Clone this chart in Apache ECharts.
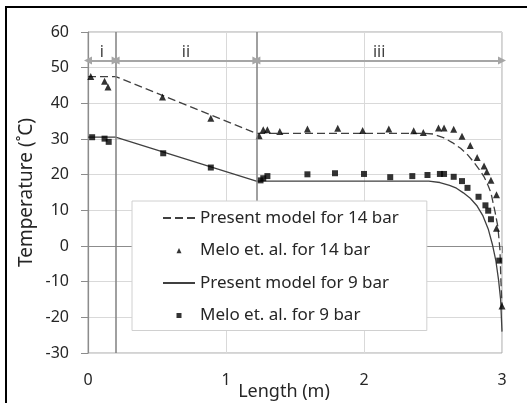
<!DOCTYPE html>
<html lang="en">
<head>
    <meta charset="UTF-8">
    <title>Temperature along length</title>
    <script type="text/javascript" src="https://cdn.jsdelivr.net/npm/echarts@6/dist/echarts.min.js"></script>
    <style>
        html, body { margin: 0; padding: 0; background: #fff; }
    </style>
</head>
<body>

<div id="main" style="width: 527px;height:403px;"></div>

<script>
    // axis ranges
    var xRange = [0, 3, 1];
    var yRange = [-30, 60, 10];

    // section bounds (m) and names for the arrows on top
    var sectionBounds = [0, 0.2, 1.22, 3];
    var sectionNames = ['i', 'ii', 'iii'];
    var arrowLevel = 52;
    var dividerEnds = [-30, 12]; // bottom of the lines at 0.2 and 1.22

    // present model, 14 bar (dashed)
    var model14 = [
        [0, 47.5], [0.2, 47.5], [1.22, 31.6], [2.43, 31.6], [2.5, 31.4],
        [2.58, 30.3], [2.64, 29.0], [2.7, 27.4], [2.75, 25.6], [2.8, 23.3],
        [2.84, 21.2], [2.87, 19.4], [2.9, 16.9], [2.92, 14.9], [2.95, 9.5],
        [2.97, 5.4], [2.985, -1], [2.992, -9.5], [3.0, -17]
    ];
    // Melo et al., 14 bar (triangles)
    var melo14 = [
        [0.02, 47.5], [0.12, 46.2], [0.145, 44.6], [0.54, 41.8], [0.89, 35.8],
        [1.24, 30.9], [1.27, 32.6], [1.30, 32.6], [1.39, 32.1], [1.59, 32.8],
        [1.81, 33.0], [1.99, 32.4], [2.18, 32.8], [2.36, 32.3], [2.43, 31.8],
        [2.54, 33.1], [2.58, 33.1], [2.65, 32.7], [2.71, 30.8], [2.77, 28.2],
        [2.82, 24.8], [2.87, 22.4], [2.89, 20.8], [2.92, 18.4], [2.96, 14.4],
        [2.96, 5.0], [3.0, -16.8]
    ];
    // present model, 9 bar (solid)
    var model9 = [
        [0, 30.5], [0.2, 30.5], [1.22, 18.2], [2.47, 18.2], [2.55, 17.8],
        [2.62, 17.0], [2.67, 16.2], [2.72, 14.9], [2.77, 13.4], [2.82, 11.2],
        [2.86, 8.6], [2.9, 4.8], [2.93, 0.5], [2.955, -4], [2.975, -9.5],
        [2.99, -15], [3.0, -24]
    ];
    // Melo et al., 9 bar (squares)
    var melo9 = [
        [0.03, 30.5], [0.12, 30.1], [0.15, 29.2], [0.545, 26.0], [0.89, 22.0],
        [1.25, 18.4], [1.27, 19.0], [1.30, 19.6], [1.59, 20.1], [1.79, 20.4],
        [2.00, 20.2], [2.19, 19.3], [2.35, 19.6], [2.46, 19.9], [2.55, 20.2],
        [2.58, 20.2], [2.65, 19.4], [2.71, 18.2], [2.75, 16.3], [2.83, 13.8],
        [2.88, 11.4], [2.90, 9.9], [2.92, 7.5], [2.98, -4.1]
    ];

    var font = 'Noto Sans';

    // dividers + arrows as mark lines
    var marks = [];
    [sectionBounds[1], sectionBounds[2]].forEach(function (x, i) {
        marks.push([
            {coord: [x, yRange[1]], symbol: 'none', lineStyle: {color: '#808080', width: 1.5, type: 'solid'}, label: {show: false}},
            {coord: [x, dividerEnds[i]], symbol: 'none'}
        ]);
    });
    sectionNames.forEach(function (n, i) {
        marks.push([
            {coord: [sectionBounds[i], arrowLevel], lineStyle: {color: '#a6a6a6', width: 2, type: 'solid'},
                label: {show: true, formatter: n, position: 'middle', distance: 0, color: '#404040', fontSize: 16, fontFamily: font}},
            {coord: [sectionBounds[i + 1], arrowLevel]}
        ]);
    });

    // legend icons: small marker centred in the 32x6 icon box
    var hideDot = {color: 'rgba(0,0,0,0)', opacity: 0};
    var triIcon = 'path://M0,0M32,6M13.5,5.8L16,0.6L18.5,5.8Z';
    var sqIcon = 'path://M0,0M32,6M13.5,0.5L18.5,0.5L18.5,5.5L13.5,5.5Z';

    var myChart = echarts.init(document.getElementById('main'));
    myChart.setOption({
        animation: false,
        textStyle: {fontFamily: font},
        graphic: [{
            type: 'rect',
            shape: {x: 6, y: 7, width: 600, height: 500},
            style: {fill: 'none', stroke: '#000', lineWidth: 2},
            silent: true
        }],
        grid: {
            left: 88, right: 25, top: 32, bottom: 50,
            outerBoundsMode: 'none',
            containLabel: false,
            show: true, borderColor: '#a6a6a6', borderWidth: 1
        },
        legend: {
            orient: 'vertical',
            left: 132, top: 201,
            z: 10,
            padding: [7, 28, 5, 30],
            itemGap: 12.5,
            itemWidth: 32, itemHeight: 6,
            backgroundColor: '#fff',
            borderColor: '#d0d0d0', borderWidth: 1,
            textStyle: {fontSize: 17, lineHeight: 20, color: '#262626', fontFamily: font},
            data: [
                {name: 'Present model for 14 bar', itemStyle: hideDot},
                {name: 'Melo et. al. for 14 bar', icon: triIcon},
                {name: 'Present model for 9 bar', itemStyle: hideDot},
                {name: 'Melo et. al. for 9 bar', icon: sqIcon}
            ]
        },
        xAxis: {
            type: 'value',
            min: xRange[0], max: xRange[1], interval: xRange[2],
            name: 'Length (m)',
            nameLocation: 'middle', nameGap: 30,
            nameMoveOverlap: false,
            nameTextStyle: {fontSize: 18, color: '#262626', padding: [0, 22, 0, 0]},
            axisLine: {show: true, lineStyle: {color: '#8c8c8c', width: 1.2}},
            axisTick: {show: true, length: 7, lineStyle: {color: '#8c8c8c'}},
            axisLabel: {fontSize: 16, color: '#262626', margin: 19},
            splitLine: {show: true, lineStyle: {color: '#d9d9d9'}}
        },
        yAxis: {
            type: 'value',
            min: yRange[0], max: yRange[1], interval: yRange[2],
            name: 'Temperature (˚C)',
            nameLocation: 'middle', nameGap: 52,
            nameMoveOverlap: false,
            nameTextStyle: {fontSize: 19, color: '#262626'},
            axisLine: {show: true, lineStyle: {color: '#8c8c8c', width: 1.2}},
            axisTick: {show: true, length: 7, lineStyle: {color: '#8c8c8c'}},
            axisLabel: {fontSize: 16, color: '#262626', margin: 19},
            splitLine: {show: true, lineStyle: {color: '#d9d9d9'}}
        },
        series: [
            {
                name: 'Present model for 14 bar',
                type: 'line',
                symbol: 'none',
                data: model14,
                color: '#404040',
                lineStyle: {color: '#404040', width: 1.3, type: [8, 4]},
                markLine: {
                    silent: true,
                    symbol: ['triangle', 'triangle'],
                    symbolSize: 8,
                    data: marks
                },
                z: 3
            },
            {
                name: 'Melo et. al. for 14 bar',
                type: 'scatter',
                symbol: 'triangle',
                symbolSize: 7,
                data: melo14,
                itemStyle: {color: '#000'},
                z: 4
            },
            {
                name: 'Present model for 9 bar',
                type: 'line',
                symbol: 'none',
                data: model9,
                color: '#404040',
                lineStyle: {color: '#404040', width: 1.3},
                z: 3
            },
            {
                name: 'Melo et. al. for 9 bar',
                type: 'scatter',
                symbol: 'rect',
                symbolSize: 6,
                data: melo9,
                itemStyle: {color: '#000'},
                z: 4
            }
        ]
    });
</script>

</body>
</html>
